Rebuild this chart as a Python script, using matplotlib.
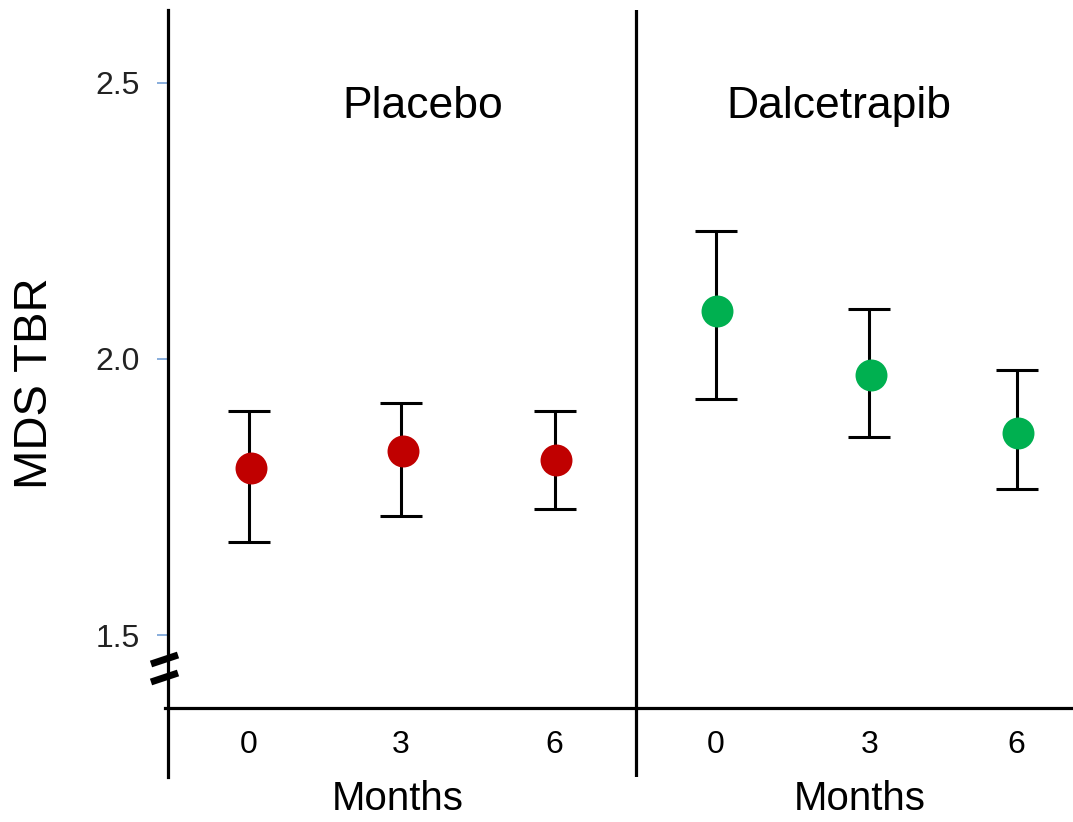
import matplotlib
matplotlib.use("Agg")
import matplotlib.pyplot as plt
from matplotlib.lines import Line2D

plt.rcParams["font.family"] = ["Liberation Sans", "DejaVu Sans"]

# Data
months = ["0", "3", "6"]
groups = ["Placebo", "Dalcetrapib"]
placebo_mean = [1.803, 1.833, 1.817]
placebo_upper = [1.906, 1.920, 1.906]
placebo_lower = [1.668, 1.716, 1.728]
dalc_mean = [2.087, 1.971, 1.866]
dalc_upper = [2.232, 2.091, 1.980]
dalc_lower = [1.928, 1.859, 1.764]
y_ticks = [1.5, 2.0, 2.5]

W, H = 1073, 822
fig = plt.figure(figsize=(W / 100, H / 100), dpi=100)
ax = fig.add_axes([168 / W, 45 / H, (W - 168) / W, 767 / H])

placebo_x = [0, 1, 2.01]
dalc_x = [3.07, 4.08, 5.05]


def draw_group(x, mean, upper, lower, color):
    err = [[m - lo for m, lo in zip(mean, lower)], [u - m for m, u in zip(mean, upper)]]
    ax.errorbar(x, mean, yerr=err, fmt="none", ecolor="black", elinewidth=2.2,
                capsize=15, capthick=2.2, zorder=2)
    ax.plot([v + 0.012 for v in x], mean, "o", color=color, markersize=23,
            markeredgewidth=0, zorder=3)


draw_group(placebo_x, placebo_mean, placebo_upper, placebo_lower, "#C00000")
draw_group(dalc_x, dalc_mean, dalc_upper, dalc_lower, "#00B050")

ax.set_xlim(-0.533, 5.421)
ax.set_ylim(1.243, 2.632)

for s in ["top", "right", "bottom"]:
    ax.spines[s].set_visible(False)
ax.spines["left"].set_linewidth(2.3)

ax.set_xticks([])
ax.set_yticks(y_ticks)
ax.set_yticklabels([f"{t:.1f}" for t in y_ticks], fontsize=23, color="#222222")
ax.tick_params(axis="y", direction="out", length=8, width=1.3, color="#7FA7D9", pad=12)

# divider and baseline
ax.axvline(2.546, color="black", lw=2.3)
ax.plot([-0.55, 5.5], [1.368, 1.368], color="black", lw=2.3, clip_on=False)

# group titles
ax.text(1.14, 2.457, groups[0], fontsize=32, ha="center", va="center")
ax.text(3.88, 2.457, groups[1], fontsize=32, ha="center", va="center")

# month labels
for x, m in zip(placebo_x + dalc_x, months + months):
    ax.text(x, 1.301, m, fontsize=23, ha="center", va="center")
ax.text(0.98, 1.203, "Months", fontsize=29, ha="center", va="center", clip_on=False)
ax.text(4.02, 1.203, "Months", fontsize=29, ha="center", va="center", clip_on=False)

fig.text(35 / W, 1 - 383 / H, "MDS TBR", fontsize=34, rotation=90,
         ha="center", va="center")

# axis break mark
for y0 in (664, 682):
    fig.add_artist(Line2D([151 / W, 178 / W], [1 - y0 / H, 1 - (y0 - 9) / H],
                          color="black", lw=5, solid_capstyle="butt"))

fig.savefig("out.png", dpi=100, facecolor="white")
